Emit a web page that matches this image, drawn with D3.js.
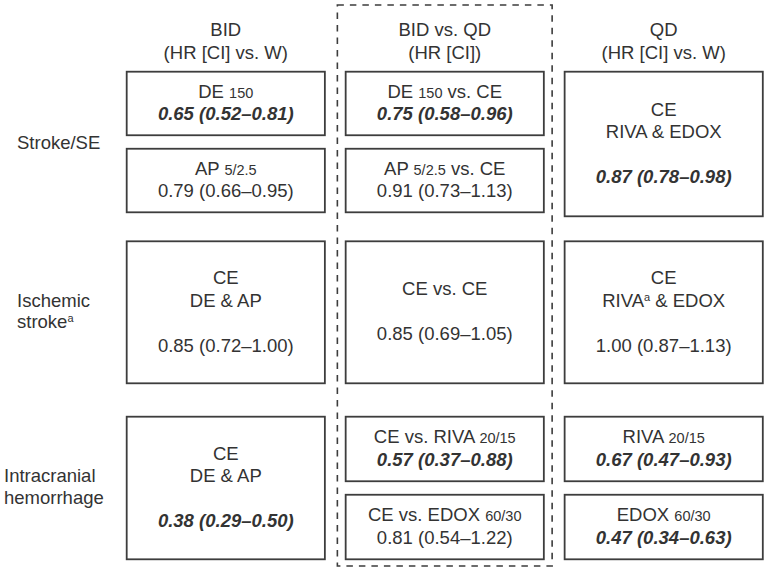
<!DOCTYPE html>
<html>
<head>
<meta charset="utf-8">
<script src="https://cdn.jsdelivr.net/npm/d3@7/dist/d3.min.js"></script>
<style>
  html, body { margin: 0; padding: 0; background: #fff; }
  svg { display: block; }
  text { font-family: "Liberation Sans", Arial, Helvetica, sans-serif; fill: #333; }
</style>
</head>
<body>
<svg id="chart" width="768" height="575"></svg>
<script>
// ---------------- DATA ----------------
const columns = ["BID", "BID vs. QD", "QD"];
const columnSubtitles = ["(HR [CI] vs. W)", "(HR [CI])", "(HR [CI] vs. W)"];
const outcomes = ["Stroke/SE", "Ischemic|stroke^a", "Intracranial|hemorrhage"];

// one entry per box  ({...} = dose, ^a = footnote, | = line break)
const boxOutcome = [0, 0, 0, 0, 0, 1, 1, 1, 2, 2, 2, 2, 2];
const boxColumn  = [0, 0, 1, 1, 2, 0, 1, 2, 0, 1, 1, 2, 2];
const boxLabel = [
  "DE {150}", "AP {5/2.5}",
  "DE {150} vs. CE", "AP {5/2.5} vs. CE",
  "CE|RIVA & EDOX",
  "CE|DE & AP", "CE vs. CE", "CE|RIVA^a & EDOX",
  "CE|DE & AP",
  "CE vs. RIVA {20/15}", "CE vs. EDOX {60/30}",
  "RIVA {20/15}", "EDOX {60/30}"
];
const hr      = [0.65, 0.79, 0.75, 0.91, 0.87, 0.85, 0.85, 1.00, 0.38, 0.57, 0.81, 0.67, 0.47];
const ciLow   = [0.52, 0.66, 0.58, 0.73, 0.78, 0.72, 0.69, 0.87, 0.29, 0.37, 0.54, 0.47, 0.34];
const ciHigh  = [0.81, 0.95, 0.96, 1.13, 0.98, 1.00, 1.05, 1.13, 0.50, 0.88, 1.22, 0.93, 0.63];
const significant = [true, false, true, false, true, false, false, false, true, true, false, true, true];

// ---------------- LAYOUT ----------------
const FS = 18.5, FS_SMALL = 14.5, FS_SUP = 11, LH = 22.5;
const rowTop = [71.7, 241.3, 416.7];
const rowHeight = [144.6, 142, 142.6];
const pairGap = 13.5;
const rowLabelX = [17, 17, 4];
const stroke = "#3d3d3d";

const svg = d3.select("#chart");
const x = d3.scaleBand().domain(columns).range([126.7, 762.8]).paddingInner(0.095).paddingOuter(0);
const fmt = d3.format(".2f");

// Dashed frame around the middle column
const mid = columns[1];
svg.append("rect")
  .attr("x", x(mid) - 8.3).attr("y", 5)
  .attr("width", x.bandwidth() + 16.6).attr("height", 561)
  .attr("fill", "none").attr("stroke", stroke).attr("stroke-width", 1.6)
  .attr("stroke-dasharray", "6.5,6");

// Column headers
columns.forEach((c, i) => {
  const cx = x(c) + x.bandwidth() / 2;
  svg.append("text").attr("x", cx).attr("y", 36).attr("text-anchor", "middle")
    .style("font-size", FS + "px").text(c);
  svg.append("text").attr("x", cx).attr("y", 59).attr("text-anchor", "middle")
    .style("font-size", FS + "px").text(columnSubtitles[i]);
});

// rich-text line writer
function writeRich(textSel, str) {
  const re = /(\{[^}]*\}|\^[a-z])/g;
  const parts = str.split(re).filter(s => s.length);
  let raised = false;
  parts.forEach(p => {
    const t = textSel.append("tspan");
    if (p.startsWith("{")) {
      t.text(p.slice(1, -1)).style("font-size", FS_SMALL + "px");
    } else if (p.startsWith("^")) {
      t.text(p.slice(1)).style("font-size", FS_SUP + "px").attr("dy", -6);
      raised = true;
      return;
    } else {
      t.text(p);
    }
    if (raised) { t.attr("dy", 6); raised = false; }
  });
}

// Row labels
outcomes.forEach((o, r) => {
  const lines = o.split("|");
  const cy = rowTop[r] + rowHeight[r] / 2;
  const y0 = cy - (lines.length - 1) * 21.5 / 2 + 0.28 * FS;
  lines.forEach((ln, k) => {
    const t = svg.append("text").attr("x", rowLabelX[r]).attr("y", y0 + k * 21.5)
      .style("font-size", FS + "px");
    writeRich(t, ln);
  });
});

// Boxes
const boxes = boxLabel.map((lab, i) => ({
  i, r: boxOutcome[i], c: boxColumn[i], label: lab,
  value: `${fmt(hr[i])} (${fmt(ciLow[i])}–${fmt(ciHigh[i])})`,
  sig: significant[i]
}));
const groups = d3.group(boxes, d => d.r + "-" + d.c);
groups.forEach(list => {
  const n = list.length;
  list.forEach((b, k) => {
    const h = n === 1 ? rowHeight[b.r] : (rowHeight[b.r] - pairGap) / 2 - (b.r === 0 ? 2 : 0);
    const top = rowTop[b.r] + k * (h + pairGap);
    const left = x(columns[b.c]);
    svg.append("rect").attr("x", left).attr("y", top)
      .attr("width", x.bandwidth()).attr("height", h)
      .attr("fill", "none").attr("stroke", stroke).attr("stroke-width", 1.8);
    // line slots
    const labLines = b.label.split("|");
    const slots = labLines.map(l => ({ txt: l, val: false }));
    if (n === 1) slots.push(null);
    slots.push({ txt: b.value, val: true });
    const cy = top + h / 2;
    const y0 = cy - (slots.length - 1) * LH / 2 + 0.3 * FS;
    const cx = left + x.bandwidth() / 2;
    slots.forEach((s, k2) => {
      if (!s) return;
      const t = svg.append("text").attr("x", cx).attr("y", y0 + k2 * LH)
        .attr("text-anchor", "middle").style("font-size", FS + "px");
      if (s.val) {
        t.text(s.txt);
        if (b.sig) t.style("font-weight", "bold").style("font-style", "italic");
      } else {
        writeRich(t, s.txt);
      }
    });
  });
});
</script>
</body>
</html>
